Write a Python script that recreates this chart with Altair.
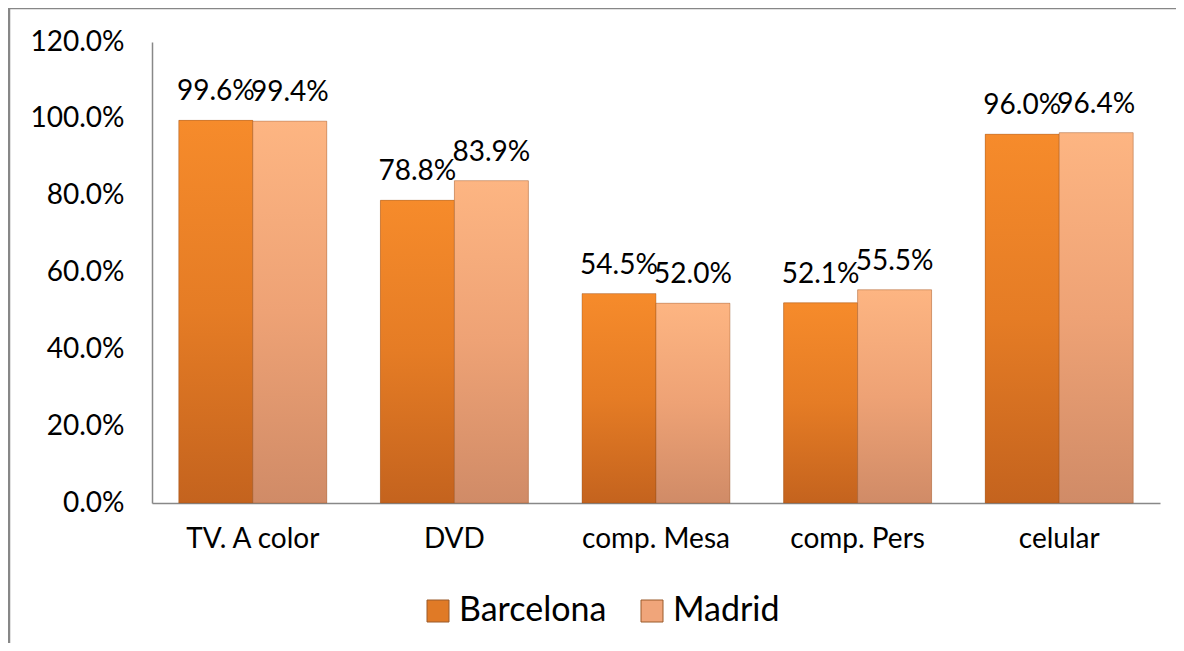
import altair as alt
import pandas as pd

categories = ["TV. A color", "DVD", "comp. Mesa", "comp. Pers", "celular"]
cities = ["Barcelona", "Madrid"]
barcelona = [0.996, 0.788, 0.545, 0.521, 0.960]
madrid = [0.994, 0.839, 0.520, 0.555, 0.964]
y_ticks = [0.0, 0.2, 0.4, 0.6, 0.8, 1.0, 1.2]

rows = []
for c, b, m in zip(categories, barcelona, madrid):
    rows.append({"cat": c, "city": "Barcelona", "val": b})
    rows.append({"cat": c, "city": "Madrid", "val": m})
df = pd.DataFrame(rows)

FONT = "Lato"
W, H = 1008, 461

grad_b = alt.Gradient(
    gradient="linear", x1=0, x2=0, y1=0, y2=1,
    stops=[alt.GradientStop(color="#F68B2B", offset=0),
           alt.GradientStop(color="#E57C25", offset=0.5),
           alt.GradientStop(color="#C4631E", offset=1)])
grad_m = alt.Gradient(
    gradient="linear", x1=0, x2=0, y1=0, y2=1,
    stops=[alt.GradientStop(color="#FDB582", offset=0),
           alt.GradientStop(color="#EEA275", offset=0.5),
           alt.GradientStop(color="#D08B67", offset=1)])

x_enc = alt.X("cat:N", sort=categories,
              scale=alt.Scale(paddingInner=0.266, paddingOuter=0.133),
              axis=alt.Axis(title=None, labelAngle=0, ticks=False,
                            labelFontSize=28, labelFont=FONT, labelColor="#000",
                            labelPadding=22, domainColor="#888", domainWidth=1.5))
y_enc = alt.Y("val:Q", scale=alt.Scale(domain=[0, 1.2], nice=False),
              axis=alt.Axis(title=None, format=".1%", values=y_ticks, ticks=False,
                            grid=False, labelFontSize=28, labelFont=FONT,
                            labelColor="#000", labelPadding=28,
                            domainColor="#888", domainWidth=1.5))
xoff = alt.XOffset("city:N", sort=cities)

base = alt.Chart(df)

legend_bars = base.mark_bar().encode(
    x=x_enc, y=y_enc, xOffset=xoff,
    color=alt.Color("city:N", sort=cities,
                    scale=alt.Scale(domain=cities, range=["#E07A26", "#F0A57A"]),
                    legend=alt.Legend(title=None, orient="none", direction="horizontal",
                                      legendX=269, legendY=552,
                                      symbolType="square", symbolSize=484,
                                      symbolStrokeColor="#9a5a2a", symbolStrokeWidth=1,
                                      labelFontSize=34, labelFont=FONT, labelColor="#000",
                                      labelOffset=4, columnPadding=28)),
)

grad_bars = base.mark_bar(stroke="#8a4a1e", strokeOpacity=0.35, strokeWidth=1).encode(
    x=x_enc, y=y_enc, xOffset=xoff,
    fill=alt.condition(alt.datum.city == "Barcelona", alt.value(grad_b), alt.value(grad_m)),
)

labels = base.mark_text(baseline="bottom", dy=-14, fontSize=28, font=FONT, color="#000").encode(
    x=x_enc, y=y_enc, xOffset=xoff,
    text=alt.Text("val:Q", format=".1%"),
)

frame = alt.Chart(pd.DataFrame({"k": [0]}))
top_line = frame.mark_rule(color="#878787", strokeWidth=2.5, clip=False).encode(
    x=alt.value(-143), x2=alt.value(1200), y=alt.value(-34),
)
left_line = frame.mark_rule(color="#878787", strokeWidth=2.5, clip=False).encode(
    x=alt.value(-143), y=alt.value(-35), y2=alt.value(800),
)

chart = alt.layer(top_line, left_line, legend_bars, grad_bars, labels).properties(
    width=W, height=H,
    autosize=alt.AutoSizeParams(type="none"),
    padding={"left": 144, "top": 34, "right": 16, "bottom": 140},
).configure_view(stroke=None)

chart.save("out.html", embed_options={"renderer": "svg", "actions": False})
